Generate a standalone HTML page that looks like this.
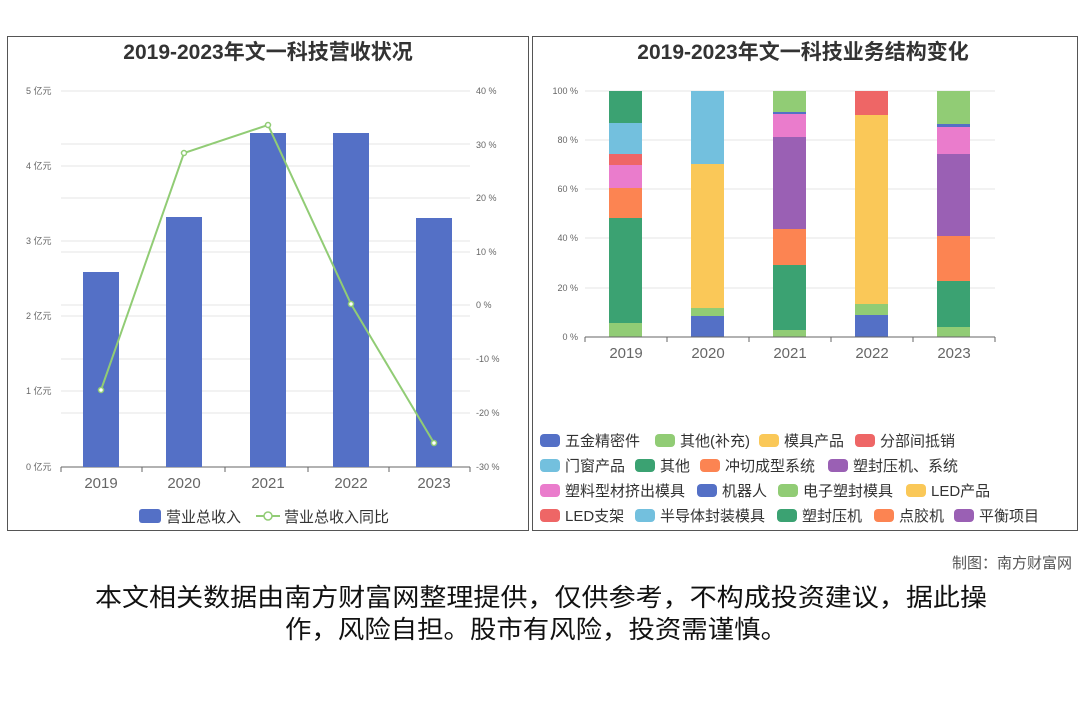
<!DOCTYPE html>
<html><head><meta charset="utf-8"><style>
html,body{margin:0;padding:0;background:#fff;width:1080px;height:720px;overflow:hidden}
svg{display:block}
text{font-family:"Liberation Sans","Noto Sans CJK SC",sans-serif}
</style></head><body>
<svg width="1080" height="720" viewBox="0 0 1080 720" xmlns="http://www.w3.org/2000/svg">
<rect x="7.5" y="36.5" width="521" height="494" fill="#fff" stroke="#555" stroke-width="1"/>
<rect x="532.5" y="36.5" width="545" height="494" fill="#fff" stroke="#555" stroke-width="1"/>
<text x="268" y="59" text-anchor="middle" font-size="21" font-weight="bold" fill="#333">2019-2023年文一科技营收状况</text>
<text x="803" y="59" text-anchor="middle" font-size="21" font-weight="bold" fill="#333">2019-2023年文一科技业务结构变化</text>

<g stroke="#e6e6e6" stroke-width="1">
<line x1="61" x2="470" y1="91" y2="91"/><line x1="61" x2="470" y1="166" y2="166"/>
<line x1="61" x2="470" y1="241" y2="241"/><line x1="61" x2="470" y1="316" y2="316"/>
<line x1="61" x2="470" y1="391" y2="391"/>
<line x1="61" x2="470" y1="144" y2="144"/><line x1="61" x2="470" y1="198" y2="198"/>
<line x1="61" x2="470" y1="252" y2="252"/><line x1="61" x2="470" y1="305" y2="305"/>
<line x1="61" x2="470" y1="359" y2="359"/><line x1="61" x2="470" y1="413" y2="413"/>
</g>
<line x1="61" x2="470" y1="467" y2="467" stroke="#666"/>
<g stroke="#666"><line x1="61" x2="61" y1="467" y2="472"/><line x1="142" x2="142" y1="467" y2="472"/><line x1="225" x2="225" y1="467" y2="472"/><line x1="308" x2="308" y1="467" y2="472"/><line x1="389" x2="389" y1="467" y2="472"/><line x1="470" x2="470" y1="467" y2="472"/></g>
<g font-size="9" fill="#666" text-anchor="start">
<text x="26" y="94">5 亿元</text><text x="26" y="169">4 亿元</text><text x="26" y="244">3 亿元</text>
<text x="26" y="319">2 亿元</text><text x="26" y="394">1 亿元</text><text x="26" y="470">0 亿元</text>
<text x="476" y="94">40 %</text><text x="476" y="148">30 %</text><text x="476" y="201">20 %</text>
<text x="476" y="255">10 %</text><text x="476" y="308">0 %</text><text x="476" y="362">-10 %</text>
<text x="476" y="416">-20 %</text><text x="476" y="470">-30 %</text>
</g>
<g fill="#5470c6">
<rect x="83" y="272" width="36" height="195"/><rect x="166" y="217" width="36" height="250"/>
<rect x="250" y="133" width="36" height="334"/><rect x="333" y="133" width="36" height="334"/>
<rect x="416" y="218" width="36" height="249"/>
</g>
<polyline points="101,390 184,153 268,125 351,304 434,443" fill="none" stroke="#91cc75" stroke-width="2"/>
<g fill="#fff" stroke="#91cc75" stroke-width="1.5">
<circle cx="101" cy="390" r="2.5"/><circle cx="184" cy="153" r="2.5"/><circle cx="268" cy="125" r="2.5"/><circle cx="351" cy="304" r="2.5"/><circle cx="434" cy="443" r="2.5"/>
</g>
<g font-size="15" fill="#666" text-anchor="middle">
<text x="101" y="488">2019</text><text x="184" y="488">2020</text><text x="268" y="488">2021</text><text x="351" y="488">2022</text><text x="434" y="488">2023</text>
</g>
<rect x="139" y="509" width="22" height="14" rx="3" fill="#5470c6"/>
<text x="166" y="522" font-size="15" fill="#333">营业总收入</text>
<line x1="256" x2="280" y1="516" y2="516" stroke="#91cc75" stroke-width="2"/>
<circle cx="268" cy="516" r="4" fill="#fff" stroke="#91cc75" stroke-width="1.5"/>
<text x="284" y="522" font-size="15" fill="#333">营业总收入同比</text>

<g stroke="#e6e6e6"><line x1="585" x2="995" y1="91" y2="91"/><line x1="585" x2="995" y1="140" y2="140"/><line x1="585" x2="995" y1="189" y2="189"/><line x1="585" x2="995" y1="238" y2="238"/><line x1="585" x2="995" y1="288" y2="288"/></g>
<g font-size="9" fill="#666" text-anchor="end">
<text x="578" y="94">100 %</text><text x="578" y="143">80 %</text><text x="578" y="192">60 %</text><text x="578" y="241">40 %</text><text x="578" y="291">20 %</text><text x="578" y="340">0 %</text>
</g>
<g>
<rect x="609" y="323" width="33" height="14" fill="#91cc75"/>
<rect x="609" y="218" width="33" height="105" fill="#3ba272"/>
<rect x="609" y="188" width="33" height="30" fill="#fc8452"/>
<rect x="609" y="165" width="33" height="23" fill="#ea7ccc"/>
<rect x="609" y="154" width="33" height="11" fill="#ee6666"/>
<rect x="609" y="123" width="33" height="31" fill="#73c0de"/>
<rect x="609" y="91" width="33" height="32" fill="#3ba272"/>
</g>
<g>
<rect x="691" y="316" width="33" height="21" fill="#5470c6"/>
<rect x="691" y="308" width="33" height="8" fill="#91cc75"/>
<rect x="691" y="164" width="33" height="144" fill="#fac858"/>
<rect x="691" y="91" width="33" height="73" fill="#73c0de"/>
</g>
<g>
<rect x="773" y="330" width="33" height="7" fill="#91cc75"/>
<rect x="773" y="265" width="33" height="65" fill="#3ba272"/>
<rect x="773" y="229" width="33" height="36" fill="#fc8452"/>
<rect x="773" y="137" width="33" height="92" fill="#9a60b4"/>
<rect x="773" y="114" width="33" height="23" fill="#ea7ccc"/>
<rect x="773" y="112" width="33" height="2" fill="#5470c6"/>
<rect x="773" y="91" width="33" height="21" fill="#91cc75"/>
</g>
<g>
<rect x="855" y="315" width="33" height="22" fill="#5470c6"/>
<rect x="855" y="304" width="33" height="11" fill="#91cc75"/>
<rect x="855" y="115" width="33" height="189" fill="#fac858"/>
<rect x="855" y="91" width="33" height="24" fill="#ee6666"/>
</g>
<g>
<rect x="937" y="327" width="33" height="10" fill="#91cc75"/>
<rect x="937" y="281" width="33" height="46" fill="#3ba272"/>
<rect x="937" y="236" width="33" height="45" fill="#fc8452"/>
<rect x="937" y="154" width="33" height="82" fill="#9a60b4"/>
<rect x="937" y="127" width="33" height="27" fill="#ea7ccc"/>
<rect x="937" y="124" width="33" height="3" fill="#5470c6"/>
<rect x="937" y="91" width="33" height="33" fill="#91cc75"/>
</g>
<line x1="585" x2="995" y1="337" y2="337" stroke="#666"/>
<g stroke="#666"><line x1="585" x2="585" y1="337" y2="342"/><line x1="667" x2="667" y1="337" y2="342"/><line x1="749" x2="749" y1="337" y2="342"/><line x1="831" x2="831" y1="337" y2="342"/><line x1="913" x2="913" y1="337" y2="342"/><line x1="995" x2="995" y1="337" y2="342"/></g>
<g font-size="15" fill="#666" text-anchor="middle">
<text x="626" y="358">2019</text><text x="708" y="358">2020</text><text x="790" y="358">2021</text><text x="872" y="358">2022</text><text x="954" y="358">2023</text>
</g>
<g font-size="15" fill="#333">
<rect x="540" y="434" width="20" height="13" rx="4" fill="#5470c6"/><text x="565" y="446">五金精密件</text>
<rect x="655" y="434" width="20" height="13" rx="4" fill="#91cc75"/><text x="680" y="446">其他(补充)</text>
<rect x="759" y="434" width="20" height="13" rx="4" fill="#fac858"/><text x="784" y="446">模具产品</text>
<rect x="855" y="434" width="20" height="13" rx="4" fill="#ee6666"/><text x="880" y="446">分部间抵销</text>

<rect x="540" y="459" width="20" height="13" rx="4" fill="#73c0de"/><text x="565" y="471">门窗产品</text>
<rect x="635" y="459" width="20" height="13" rx="4" fill="#3ba272"/><text x="660" y="471">其他</text>
<rect x="700" y="459" width="20" height="13" rx="4" fill="#fc8452"/><text x="725" y="471">冲切成型系统</text>
<rect x="828" y="459" width="20" height="13" rx="4" fill="#9a60b4"/><text x="853" y="471">塑封压机、系统</text>

<rect x="540" y="484" width="20" height="13" rx="4" fill="#ea7ccc"/><text x="565" y="496">塑料型材挤出模具</text>
<rect x="697" y="484" width="20" height="13" rx="4" fill="#5470c6"/><text x="722" y="496">机器人</text>
<rect x="778" y="484" width="20" height="13" rx="4" fill="#91cc75"/><text x="803" y="496">电子塑封模具</text>
<rect x="906" y="484" width="20" height="13" rx="4" fill="#fac858"/><text x="931" y="496">LED产品</text>

<rect x="540" y="509" width="20" height="13" rx="4" fill="#ee6666"/><text x="565" y="521">LED支架</text>
<rect x="635" y="509" width="20" height="13" rx="4" fill="#73c0de"/><text x="660" y="521">半导体封装模具</text>
<rect x="777" y="509" width="20" height="13" rx="4" fill="#3ba272"/><text x="802" y="521">塑封压机</text>
<rect x="874" y="509" width="20" height="13" rx="4" fill="#fc8452"/><text x="899" y="521">点胶机</text>
<rect x="954" y="509" width="20" height="13" rx="4" fill="#9a60b4"/><text x="979" y="521">平衡项目</text>
</g>

<text x="1072" y="568" text-anchor="end" font-size="15" fill="#555">制图：南方财富网</text>
<text x="95" y="606" font-size="25" fill="#111" textLength="892" lengthAdjust="spacingAndGlyphs">本文相关数据由南方财富网整理提供，仅供参考，不构成投资建议，据此操</text>
<text x="285" y="638" font-size="25" fill="#111" textLength="502" lengthAdjust="spacingAndGlyphs">作，风险自担。股市有风险，投资需谨慎。</text>
</svg>
</body></html>
